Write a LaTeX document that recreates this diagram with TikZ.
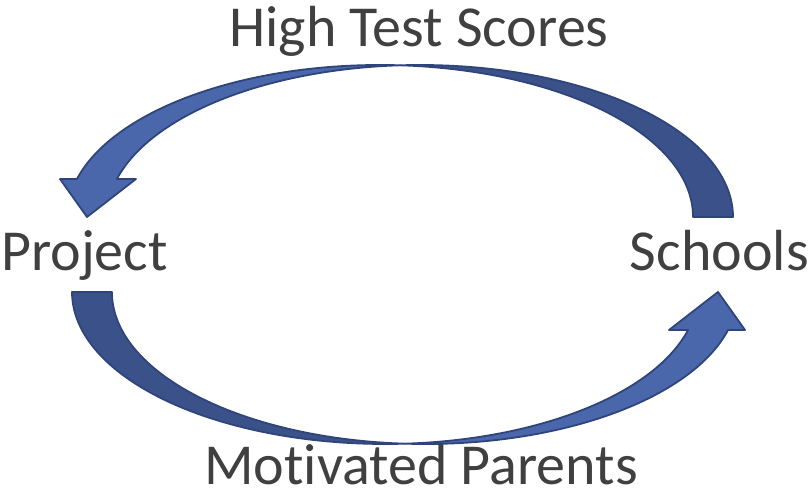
\documentclass[tikz,border=0pt]{standalone}
\usepackage{fontspec}
\setmainfont{Carlito}[Ligatures=NoCommon]
\usepackage{tikz}
\usetikzlibrary{positioning}
\definecolor{textgray}{RGB}{64,64,64}
\definecolor{frontblue}{RGB}{74,103,172}
\definecolor{backblue}{RGB}{59,81,137}
\definecolor{edgeblue}{RGB}{47,69,122}
\tikzstyle{Label} = [text=textgray, font=\fontsize{58}{60}\selectfont, inner sep=0pt]
\tikzstyle{Back} = [fill=backblue, draw=edgeblue, line width=1.8pt, line join=round]
\tikzstyle{Front} = [fill=frontblue, draw=edgeblue, line width=1.8pt, line join=round]
\newcommand{\CurvedArrow}{
\draw[Back](733,280) arc[start angle=0, end angle=93.66, x radius=313, y radius=152]
  arc[start angle=86.34, end angle=0, x radius=313, y radius=152] -- cycle;
\draw[Front](400,431.69) arc[start angle=86.34, end angle=165.52, x radius=313, y radius=152]
  -- (60,318) -- (87,280) -- (136,318) -- (116.94,318)
  arc[start angle=165.52, end angle=93.66, x radius=313, y radius=152] -- cycle;
}

\begin{document}
\begin{tikzpicture}[x=1pt,y=1pt]
\useasboundingbox (0,0) rectangle (812,497);
\node (High Test Scores)[Label, anchor=base] at (419,450){High Test Scores};
\node (Project)[Label, anchor=base west] at (1,226){Project};
\node (Schools)[Label, anchor=base east] at (809,226){Schools};
\node (Motivated Parents)[Label, anchor=base] at (421,12){Motivated Parents};

\CurvedArrow
\begin{scope}[rotate around={180:(402.5,242.5)}]
\CurvedArrow
\end{scope}

\end{tikzpicture}
\end{document}
